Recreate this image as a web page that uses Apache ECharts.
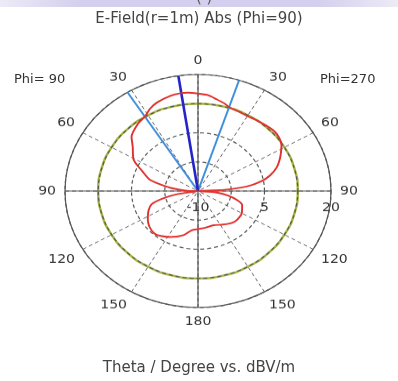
<!DOCTYPE html>
<html><head><meta charset="utf-8">
<script src="https://cdn.jsdelivr.net/npm/echarts@6/dist/echarts.min.js"></script>
<style>
html,body{margin:0;padding:0;background:#fff;}
#wrap{position:relative;width:398px;height:381px;overflow:hidden;background:#fff;}
#polar{position:absolute;left:0;top:0;width:398px;height:381px;transform:scaleY(0.876);transform-origin:0 191px;}
#text{position:absolute;left:0;top:0;width:398px;height:381px;pointer-events:none;}
</style></head><body>
<div id="wrap"><div id="polar"></div><div id="text"></div></div>
<script>
// Theta measured clockwise from top (0..360); right half = Phi 270 side, left half = Phi 90 side
const thetaDeg = [0, 5, 10, 15, 18, 24, 30, 36, 42, 48, 53, 58, 62, 66, 71, 76, 80, 84, 87, 90,
  95, 100, 105, 110, 120, 130, 137, 147, 158, 170, 180, 188, 196, 208, 216, 222, 230, 237, 246, 252, 256, 260, 265,
  271, 275, 279, 285, 292, 299, 308, 313, 322, 328, 333, 338, 346, 351, 355, 360];
const fieldDbV = [15.1, 14.8, 14.0, 13.3, 12.7, 12.4, 12.3, 12.5, 12.8, 13.1, 12.9, 12.2, 11.2, 10.2, 8.8, 6.8, 4.5, 1.0, -4.0, -10,
  -6, -3, -0.8, 0.6, 1.4, 1.5, 1.2, 0.3, -0.5, -0.4, -0.2, 0.2, 1.8, 3.4, 4.3, 4.7, 4.3, 3.5, 2.2, 1.0, -1.5, -5, -10,
  -8, -5.5, -2.9, 1.2, 3.5, 6.6, 8.7, 10.5, 12.0, 12.6, 13.8, 14.6, 15.3, 15.5, 15.4, 15.1];
const mainLobeDir = 351.5;
const halfPowerEdges = [328, 18];
const minus3dBLevel = 12.5;
const levelAngles = [0, 15, 30, 45, 60, 75, 90, 105, 120, 135, 150, 165, 180, 195, 210, 225, 240, 255, 270, 285, 300, 315, 330, 345, 360];
const radiusRange = [-10, 20];
const radiusStep = 7.5;
const radiusTickLabels = [-10, 5, 20];
const angleStep = 30;

const FONT = 'DejaVu Sans';
const chart = echarts.init(document.getElementById('polar'));
chart.setOption({
  animation: false,
  polar: [{center: [198, 191], radius: 133}, {center: [198, 191], radius: 133}],
  angleAxis: [
    {polarIndex: 0, type: 'value', min: 0, max: 360, interval: angleStep, startAngle: 90, clockwise: true, z: 2,
      axisLine: {show: true, lineStyle: {color: '#555', width: 1.2}},
      axisTick: {show: false},
      axisLabel: {show: true, margin: 9, color: '#333', fontSize: 14, fontFamily: FONT,
        formatter: v => v === 360 ? '' : String(v <= 180 ? v : 360 - v)},
      splitLine: {show: true, lineStyle: {color: '#666', type: [4, 3], width: 1}}},
    {polarIndex: 1, type: 'value', min: 0, max: 360, interval: 90, startAngle: 0, clockwise: true, z: 4,
      axisLine: {show: false}, axisTick: {show: false}, axisLabel: {show: false},
      splitLine: {show: true, lineStyle: {color: '#555', width: 1.2}}}
  ],
  radiusAxis: [
    {polarIndex: 0, type: 'value', min: radiusRange[0], max: radiusRange[1], interval: radiusStep, z: 3,
      axisLine: {show: false}, axisTick: {show: false}, axisLabel: {show: false},
      splitLine: {show: true, lineStyle: {color: '#4f5a56', type: [4, 3], width: 1.2}}},
    {polarIndex: 1, type: 'value', min: radiusRange[0], max: radiusRange[1], interval: radiusStep, z: 5,
      axisLine: {show: false}, axisTick: {show: false}, splitLine: {show: false},
      axisLabel: {show: true, color: '#333', fontSize: 14, fontFamily: FONT, margin: -12, verticalAlign: 'top',
        formatter: v => radiusTickLabels.includes(v) ? String(v) : ''}}
  ],
  series: [
    {type: 'line', coordinateSystem: 'polar', polarIndex: 0, z: 0, silent: true, symbol: 'none',
      data: levelAngles.map(a => [minus3dBLevel, a]), smooth: true,
      lineStyle: {color: '#a9b23c', width: 2.4}},
    {type: 'line', coordinateSystem: 'polar', polarIndex: 0, z: 8, symbol: 'none',
      data: [[radiusRange[0], halfPowerEdges[0]], [radiusRange[1], halfPowerEdges[0]]],
      lineStyle: {color: '#3d8fdc', width: 2}},
    {type: 'line', coordinateSystem: 'polar', polarIndex: 0, z: 8, symbol: 'none',
      data: [[radiusRange[0], halfPowerEdges[1]], [radiusRange[1], halfPowerEdges[1]]],
      lineStyle: {color: '#3d8fdc', width: 2}},
    {type: 'line', coordinateSystem: 'polar', polarIndex: 0, z: 9, symbol: 'none',
      data: [[radiusRange[0], mainLobeDir], [radiusRange[1], mainLobeDir]],
      lineStyle: {color: '#2424c8', width: 2.6}},
    {type: 'line', coordinateSystem: 'polar', polarIndex: 0, z: 10, symbol: 'none', smooth: 0.25,
      data: thetaDeg.map((t, i) => [fieldDbV[i], t]),
      lineStyle: {color: '#e0302c', width: 1.9}}
  ]
});

const txt = echarts.init(document.getElementById('text'));
txt.setOption({
  animation: false,
  title: {text: 'E-Field(r=1m) Abs (Phi=90)', left: 'center', top: 7,
    textStyle: {fontSize: 15, fontWeight: 'normal', color: '#444', fontFamily: FONT}},
  graphic: [
    {type: 'rect', left: 0, top: 0, shape: {width: 398, height: 7}, z: 0,
      style: {fill: new echarts.graphic.LinearGradient(0, 0, 1, 0, [
        {offset: 0, color: '#ecebf6'}, {offset: 0.2, color: '#d4cfee'}, {offset: 0.8, color: '#d4cfee'}, {offset: 1, color: '#ecebf6'}])}},
    {type: 'text', left: 196, top: -9, z: 1, style: {text: '( )', fill: '#555', font: '15px "DejaVu Sans"'}},
    {type: 'text', left: 14, top: 73, style: {text: 'Phi= 90', fill: '#333', font: '13px "DejaVu Sans"'}},
    {type: 'text', left: 320, top: 73, style: {text: 'Phi=270', fill: '#333', font: '13px "DejaVu Sans"'}},
    {type: 'text', left: 'center', top: 361, style: {text: 'Theta / Degree vs. dBV/m', fill: '#444', font: '15px "DejaVu Sans"'}}
  ]
});
</script>
</body></html>
